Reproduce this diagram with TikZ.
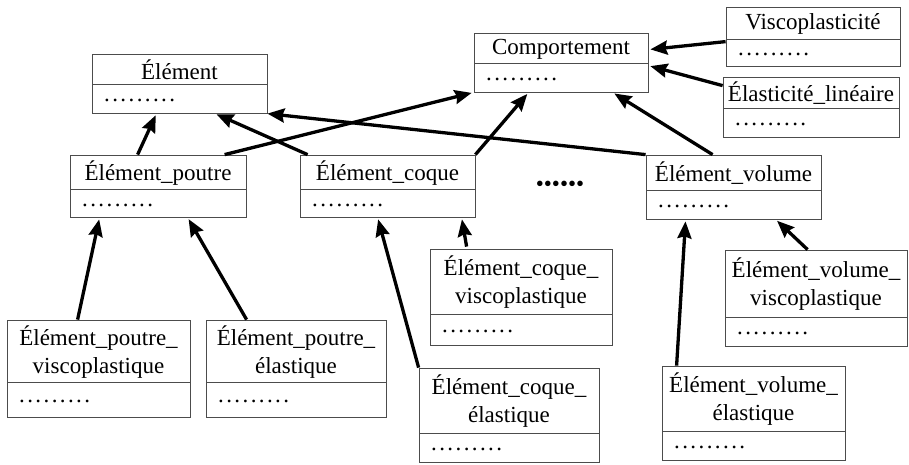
\documentclass[tikz,border=0pt]{standalone}
\usepackage{fontspec}
\setmainfont{Liberation Serif}
\usetikzlibrary{calc,arrows.meta,fit}
\newcommand{\dotrow}{.\kern2.4pt.\kern2.4pt.\kern2.4pt.\kern2.4pt.\kern2.4pt.\kern2.4pt.\kern2.4pt.\kern2.4pt.}
\newcommand{\umlcls}[7]{%
  \node[classbox, fit={(#2,#3) (#4,#5)}] (#1) {};
  \draw[seprule] (#2,#6) -- (#4,#6);
  \node[titletext] (#1-t) at ({(#2+#4)/2},{(#3+#6)/2+1}) {#7};
  \node[dotstext] (#1-d) at ({#2+12},{(#6+#5)/2+3}) {\dotrow};
}
\tikzset{
  classbox/.style={draw=black!70, line width=0.8pt, inner sep=0pt},
  seprule/.style={draw=black!70, line width=0.8pt},
  titletext/.style={align=center, inner sep=0pt, font=\fontsize{23}{28}\selectfont},
  dotstext/.style={anchor=base west, inner sep=0pt, font=\fontsize{23}{28}\selectfont},
  inh/.style={line width=3.3pt, -{Stealth[length=17pt,width=14pt,inset=2pt]}, shorten >=2pt}
}
\begin{document}
\begin{tikzpicture}[x=1pt,y=-1pt]
\useasboundingbox (0,0) rectangle (909,464);
\umlcls{elem}{92}{54}{267}{113}{84}{Élément}
\umlcls{comp}{474}{33}{648}{92}{63}{Comportement}
\umlcls{visco}{726}{7}{900}{66}{39}{Viscoplasticité}
\umlcls{elast}{723}{77}{899}{137}{108}{Élasticité\_linéaire}
\umlcls{poutre}{70}{155}{246}{217}{189}{Élément\_poutre}
\umlcls{coque}{300}{155}{475}{217}{189}{Élément\_coque}
\umlcls{volume}{646}{155}{821}{219}{190}{Élément\_volume}
\umlcls{pv}{7}{320}{190}{417}{382}{Élément\_poutre\_\\viscoplastique}
\umlcls{pe}{206}{320}{386}{417}{382}{Élément\_poutre\_\\élastique}
\umlcls{cv}{430}{249}{612}{345}{314}{Élément\_coque\_\\viscoplastique}
\umlcls{ce}{419}{368}{599}{462}{433}{Élément\_coque\_\\élastique}
\umlcls{vv}{725}{250}{907}{346}{317}{Élément\_volume\_\\viscoplastique}
\umlcls{ve}{662}{366}{845}{460}{431}{Élément\_volume\_\\élastique}
\node[titletext] (more) at (560,186) {••••••};
% inheritance arrows
\draw[inh] ($(poutre.north west)+(68,0)$) -- ($(elem.south west)+(65,0)$);
\draw[inh] ($(coque.north west)+(8,0)$) -- ($(elem.south west)+(123,0)$);
\draw[inh] ($(poutre.north west)+(155,0)$) -- (comp.south west);
\draw[inh] (volume.north west) -- ($(elem.south east)+(-2,0)$);
\draw[inh] (coque.north east) -- ($(comp.south west)+(55,0)$);
\draw[inh] ($(volume.north west)+(67,0)$) -- ($(comp.south west)+(139,0)$);
\draw[inh] ($(visco.north west)+(0,35)$) -- ($(comp.north east)+(0,17)$);
\draw[inh] ($(elast.north west)+(0,9)$) -- ($(comp.north east)+(0,33)$);
\draw[inh] ($(pv.north west)+(71,0)$) -- ($(poutre.south west)+(30,0)$);
\draw[inh] ($(pe.north west)+(41,0)$) -- ($(poutre.south west)+(118,0)$);
\draw[inh] (ce.north west) -- ($(coque.south west)+(78,0)$);
\draw[inh] ($(cv.north west)+(37,-2)$) -- ($(coque.south west)+(162,0)$);
\draw[inh] ($(ve.north west)+(15,0)$) -- ($(volume.south west)+(40,0)$);
\draw[inh] ($(vv.north west)+(83,0)$) -- ($(volume.south west)+(130,0)$);
\end{tikzpicture}
\end{document}
